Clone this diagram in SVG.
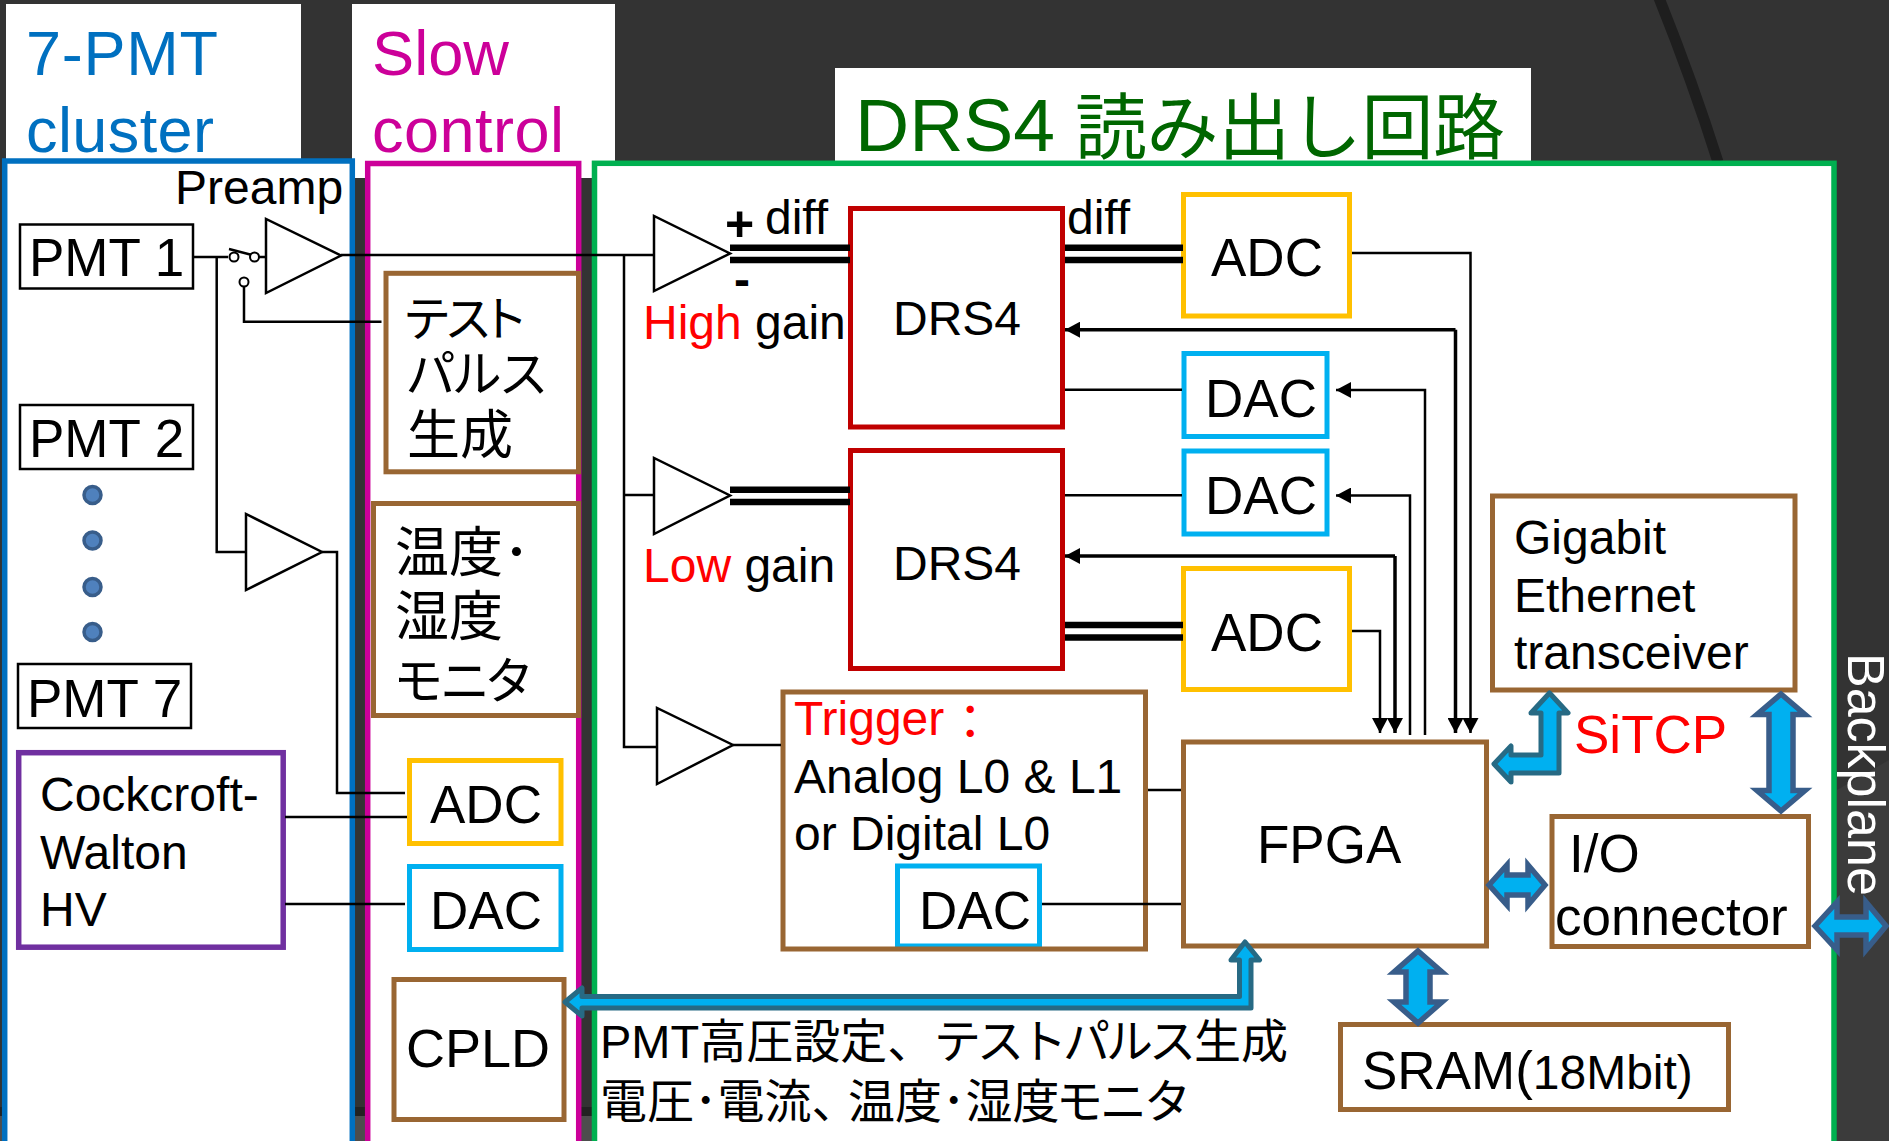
<svg xmlns="http://www.w3.org/2000/svg" width="1889" height="1141" viewBox="0 0 1889 1141">
<defs>
<marker id="ah" markerUnits="userSpaceOnUse" markerWidth="16" markerHeight="16" refX="15" refY="8" orient="auto"><path d="M0 0L15 8L0 16Z" fill="#000"/></marker>
</defs>
<style>
text{font-family:"Liberation Sans","Noto Sans CJK JP",sans-serif;fill:#000}
.box{fill:#fff;stroke-width:5}
.br{stroke:#996633}.ye{stroke:#ffc000}.cy{stroke:#00b0f0}.dr{stroke:#c00000}
.pm{fill:#fff;stroke:#000;stroke-width:2.5}
.tri{fill:#fff;stroke:#000;stroke-width:2.5}
.w{fill:#fff}
.t53{font-size:53px}.t48{font-size:48px}
.ln{fill:none;stroke:#000;stroke-width:2.5}
.thick{fill:none;stroke:#000;stroke-width:3.5}
.dbl{stroke:#000;stroke-width:6.5;fill:none}
.ba{fill:#00b0f0;stroke:#385d8a;stroke-width:5.5}
.bt{fill:#00b0f0;stroke:#276a84;stroke-width:5;stroke-linejoin:round}
.dot{fill:#4f81bd;stroke:#385d8a;stroke-width:3.5}
</style>
<rect width="1889" height="1141" fill="#333333"/>
<rect x="0" y="1107" width="600" height="9" fill="#222222"/>
<rect x="0" y="1116" width="600" height="25" fill="#4d4d4d"/>
<path d="M1837 790L1889 760V1141H1837Z" fill="#3b3b3b"/>
<path d="M1659 -2Q1692 80 1718 162" fill="none" stroke="#1e1e1e" stroke-width="11"/>

<g id="panel-slow">
<rect class="w" x="352" y="4" width="263" height="174"/>
<rect x="367.700" y="163.500" width="211" height="1000" fill="#fff" stroke="#cc0099" stroke-width="5.500"/>
<text x="372" y="75" font-size="63" style="fill:#cc0099" textLength="137" lengthAdjust="spacingAndGlyphs">Slow</text>
<text x="372" y="152" font-size="63" style="fill:#cc0099" textLength="192">control</text>
</g>
<g id="panel-7pmt">
<rect class="w" x="6" y="4" width="295" height="160"/>
<rect x="4.700" y="161" width="347.600" height="1000" fill="#fff" stroke="#0070c0" stroke-width="5.500"/>
<text x="26" y="74.500" font-size="63" style="fill:#0070c0" textLength="192">7-PMT</text>
<text x="26" y="152" font-size="63" style="fill:#0070c0" textLength="188">cluster</text>
</g>
<g id="panel-drs">
<rect class="w" x="835" y="68" width="696" height="95"/>
<rect x="594.500" y="163.300" width="1239.500" height="1000" fill="#fff" stroke="#00b050" stroke-width="5.500"/>
<text x="855" y="151" font-size="75" style="fill:#006600">DRS4</text>
<text x="1075" y="153" font-size="72" style="fill:#006600" textLength="430" lengthAdjust="spacing">読み出し回路</text>
</g>
<text id="backplane" transform="translate(1848 653) rotate(90)" font-size="52" style="fill:#fff">Backplane</text>

<g id="pmt1"><rect class="pm" x="20" y="224.500" width="173" height="64"/><text class="t53" x="29" y="276">PMT 1</text></g>
<g id="pmt2"><rect class="pm" x="20" y="405" width="173" height="64"/><text class="t53" x="29" y="457">PMT 2</text></g>
<g id="pmt7"><rect class="pm" x="18" y="664" width="173" height="64"/><text class="t53" x="27" y="717">PMT 7</text></g>
<g id="dots"><circle class="dot" cx="92.500" cy="495" r="8.500"/><circle class="dot" cx="92.500" cy="540.500" r="8.500"/><circle class="dot" cx="92.500" cy="587" r="8.500"/><circle class="dot" cx="92.500" cy="632" r="8.500"/></g>
<g id="preamp"><path class="tri" d="M266 219V293L341 255.500Z"/><text x="175" y="204" font-size="48">Preamp</text></g>
<path id="amp-hv" class="tri" d="M246 514V590L322 552Z"/>
<path id="amp-high" class="tri" d="M654 216V291L730 253.500Z"/>
<path id="amp-low" class="tri" d="M654 458V534L730 495.500Z"/>
<path id="amp-trig" class="tri" d="M657 708V784L733 745Z"/>
<g id="hv"><rect class="box" style="stroke:#7030a0;stroke-width:5.500px" x="18.700" y="752.700" width="264.500" height="194.500"/><text class="t48" x="40" y="811">Cockcroft-</text><text class="t48" x="40" y="869">Walton</text><text class="t48" x="40" y="926">HV</text></g>

<g id="testpulse"><rect class="box br" x="386" y="273.300" width="192.500" height="198.500"/>
<text x="405" y="336" style="font-size:48px;font-feature-settings:'palt';letter-spacing:-2px">テスト</text>
<text x="407" y="392" style="font-size:50px;font-feature-settings:'palt'">パルス</text>
<text x="407" y="454" style="font-size:53px">生成</text></g>
<g id="monitor"><rect class="box br" x="373.500" y="503.500" width="205" height="212"/>
<text x="395" y="572" style="font-size:54px">温度･</text>
<text x="395" y="636" style="font-size:54px">湿度</text>
<text x="395" y="699" style="font-size:50px;font-feature-settings:'palt';letter-spacing:-1px">モニタ</text></g>
<g id="adc-s"><rect class="box ye" x="409.500" y="760.500" width="151.500" height="83"/><text class="t53" x="430" y="823">ADC</text></g>
<g id="dac-s"><rect class="box cy" x="409.500" y="866.500" width="151.500" height="83"/><text class="t53" x="430" y="929">DAC</text></g>
<g id="cpld"><rect class="box br" x="394" y="979.500" width="170" height="140"/><text x="406" y="1067" font-size="54">CPLD</text></g>

<g id="drs1"><rect class="box dr" x="850.500" y="208.500" width="212" height="218.500"/><text class="t48" x="893" y="335">DRS4</text></g>
<g id="drs2"><rect class="box dr" x="850.500" y="450.500" width="212" height="218"/><text class="t48" x="893" y="580">DRS4</text></g>
<g id="adc1"><rect class="box ye" x="1183.500" y="194.500" width="166" height="121.500"/><text class="t53" x="1211" y="275.500">ADC</text></g>
<g id="adc2"><rect class="box ye" x="1183.500" y="568.500" width="166" height="121"/><text class="t53" x="1211" y="651">ADC</text></g>
<g id="dac1"><rect class="box cy" x="1184" y="353.500" width="143" height="83"/><text class="t53" x="1205" y="416.500">DAC</text></g>
<g id="dac2"><rect class="box cy" x="1184" y="451" width="143" height="83"/><text class="t53" x="1205" y="514">DAC</text></g>
<g id="dac3"><rect class="box cy" x="897.500" y="866" width="142" height="80"/><text class="t53" x="919" y="929">DAC</text></g>
<g id="trigger"><rect class="br" fill="none" stroke-width="5" x="783" y="692" width="362.500" height="257"/>
<text class="t48" x="794" y="735" style="fill:#ff0000">Trigger<tspan dx="2" dy="4" style="fill:#ff0000">：</tspan></text>
<text class="t48" x="794" y="792.500">Analog L0 &amp; L1</text><text class="t48" x="794" y="850">or Digital L0</text></g>
<g id="fpga"><rect class="box br" x="1183.500" y="742" width="303" height="204"/><text x="1257" y="863" font-size="53">FPGA</text></g>
<g id="giga"><rect class="box br" x="1492.500" y="496" width="302.500" height="194"/><text class="t48" x="1514" y="554">Gigabit</text><text class="t48" x="1514" y="612">Ethernet</text><text class="t48" x="1514" y="669">transceiver</text></g>
<g id="io"><rect class="box br" x="1552" y="816.500" width="256.500" height="130"/><text class="t53" x="1569" y="871.500">I/O</text><text class="t53" x="1555" y="935">connector</text></g>
<g id="sram"><rect class="box br" x="1340.500" y="1024.500" width="388" height="85"/><text x="1362" y="1089" font-size="53">SRAM(<tspan font-size="48">18Mbit)</tspan></text></g>

<text id="sitcp" x="1574" y="753" font-size="53" style="fill:#ff0000">SiTCP</text>
<text id="high-gain" class="t48" x="643" y="339"><tspan style="fill:#ff0000">High</tspan> gain</text>
<text id="low-gain" class="t48" x="643" y="582"><tspan style="fill:#ff0000">Low</tspan> gain</text>
<text id="diff1" x="765" y="234" font-size="48">diff</text>
<text id="diff2" x="1067" y="234" font-size="48">diff</text>
<text id="plus" x="725" y="241" font-size="50" font-weight="bold">+</text>
<text id="minus" x="734" y="296" font-size="48" font-weight="bold">-</text>
<g id="note">
<text class="t48" style="font-size:47px" y="1058"><tspan x="600">PMT高圧設定、</tspan><tspan x="934" style="letter-spacing:-4px">テストパルス</tspan><tspan x="1194">生成</tspan></text>
<text class="t48" style="font-size:47px" y="1118"><tspan x="600">電圧･電流、</tspan><tspan x="848">温度･湿度</tspan><tspan x="1056" style="letter-spacing:-3px">モニタ</tspan></text>
</g>

<g id="connectors">
<path class="ln" d="M193 257H228M216.700 257V552H246M229 249L252 255M258.500 257H266"/>
<circle cx="234" cy="257" r="4.500" fill="#fff" stroke="#000" stroke-width="2"/>
<circle cx="254.500" cy="257" r="4.500" fill="#fff" stroke="#000" stroke-width="2"/>
<circle cx="244" cy="282" r="4.500" fill="#fff" stroke="#000" stroke-width="2"/>
<path class="ln" d="M244 286.500V321.700H381.500"/>
<path class="ln" d="M341 255H654M624 255V747H656M624 495H654M733 745H781"/>
<path class="ln" d="M322 552H337V793H405M285 817H407M285 904H405"/>
<path class="dbl" d="M730 247.700H850M730 260H850M1065 247.700H1183M1065 260H1183M730 489.700H850M730 502H850M1065 625H1183M1065 637.500H1183"/>
<path class="ln" d="M1065 389.700H1182M1065 495.300H1182M1148 790H1181M1042 904H1181"/>
<path class="ln" d="M1352 253H1470.500V733" marker-end="url(#ah)"/>
<path class="thick" d="M1455.500 329.700H1065" marker-end="url(#ah)"/>
<path class="thick" d="M1455.500 329.700V733" marker-end="url(#ah)"/>
<path class="ln" d="M1425 735V390H1336" marker-end="url(#ah)"/>
<path class="ln" d="M1410 735V495.500H1336" marker-end="url(#ah)"/>
<path class="thick" d="M1395 556H1065" marker-end="url(#ah)"/>
<path class="thick" d="M1395 556V733" marker-end="url(#ah)"/>
<path class="ln" d="M1352 631H1380V733" marker-end="url(#ah)"/>
<path class="bt" d="M565 1002L582 988V996.500H1239.500V960H1231L1245 942L1259.500 960H1251V1008H582V1016Z"/>
<path class="bt" d="M1494 764L1511 746V755H1541V713H1531L1549.500 693L1568 713H1559V773H1511V782Z"/>
<path class="ba" d="M1781 694L1805 714.500H1793V790.500H1805L1781 811L1757 790.500H1769V714.500H1757Z"/>
<path class="ba" d="M1489 885L1507 865V875H1528V865L1545 885L1528 905V895H1507V905Z"/>
<path class="ba" d="M1815 926L1837 902V917H1866V902L1886 926L1866 950V935H1837V950Z"/>
<path class="ba" d="M1418 951L1442 972H1430V1002H1442L1418 1023L1394 1002H1406V972H1394Z"/>
</g>
</svg>
